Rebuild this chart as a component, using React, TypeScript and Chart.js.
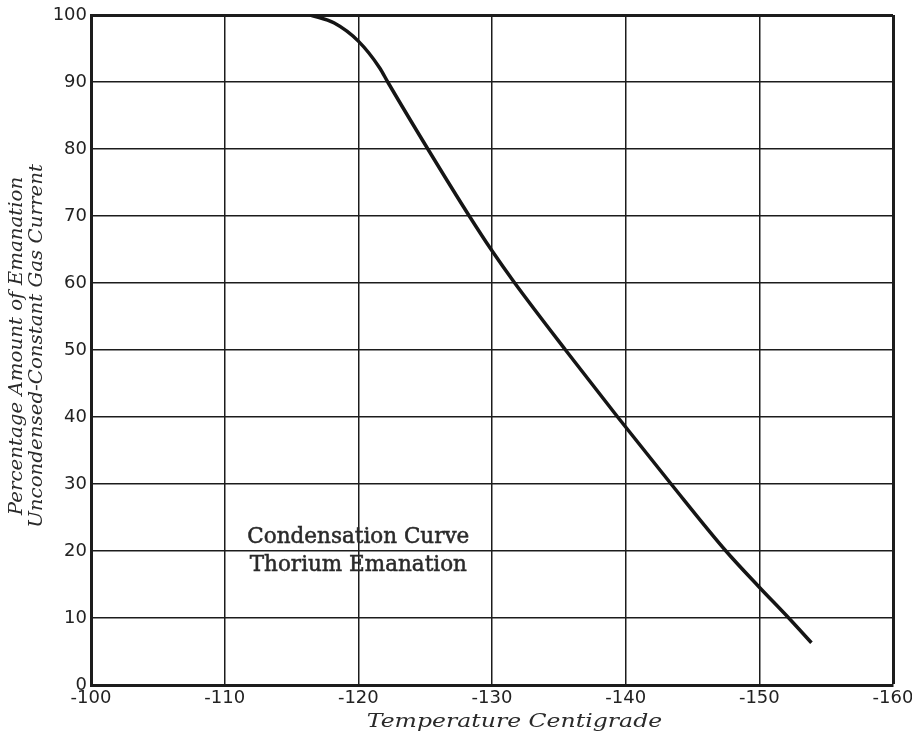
import { useEffect, useRef } from "react";
import { Chart, registerables } from "chart.js";

Chart.register(...registerables);

// Temperature (°C) and percentage of emanation remaining uncondensed
const temperatures = [-116.4, -118.2, -120, -121.6, -122.2, -125.2, -128.3, -130, -131.7, -135.5, -139.4, -143.4, -147.5, -150, -152.2, -153.9];
const percentages = [100, 98.8, 96.1, 92.1, 90, 80, 70, 64.8, 60, 50, 40, 30, 20, 14.6, 10, 6.3];

const yTitleLines = ["Percentage Amount of Emanation", "Uncondensed-Constant Gas Current"];
const xTitle = "Temperature Centigrade";
const annotationLines = ["Condensation Curve", "Thorium Emanation"];
const annotationX = -120;
const annotationY = 20;

const INK = "#1c1c1c";

const textPlugin = {
  id: "textPlugin",
  afterDraw(chart: any) {
    const { ctx, chartArea, scales } = chart;
    ctx.save();
    ctx.fillStyle = "#2a2a2a";
    ctx.strokeStyle = "#2a2a2a";
    ctx.textAlign = "center";
    ctx.textBaseline = "middle";
    // annotation
    ctx.font = '21.5px "DejaVu Serif"';
    ctx.lineWidth = 0.5;
    const ax = scales.x.getPixelForValue(annotationX);
    const ay = scales.y.getPixelForValue(annotationY);
    annotationLines.forEach((line, i) => {
      const yy = ay + (i === 0 ? -14 : 14);
      ctx.fillText(line, ax, yy);
      ctx.strokeText(line, ax, yy);
    });
    // x title (wide italic)
    ctx.font = 'italic 19px "DejaVu Serif"';
    ctx.save();
    ctx.translate(chartArea.left + chartArea.width * 0.528, chartArea.bottom + 37);
    ctx.scale(1.24, 1);
    ctx.fillText(xTitle, 0, 0);
    ctx.restore();
    // y title (rotated, two lines)
    ctx.font = 'italic 18px "DejaVu Serif"';
    const cy = (chartArea.top + chartArea.bottom) / 2 - 4;
    yTitleLines.forEach((line, i) => {
      ctx.save();
      ctx.translate(chartArea.left - 74 + i * 20, cy);
      ctx.rotate(-Math.PI / 2);
      ctx.scale(1.1, 1);
      ctx.fillText(line, 0, 0);
      ctx.restore();
    });
    ctx.restore();
  },
};

export default function App() {
  const ref = useRef<HTMLCanvasElement | null>(null);
  useEffect(() => {
    if (!ref.current) return;
    const chart = new Chart(ref.current, {
      type: "line",
      data: {
        datasets: [
          {
            data: temperatures.map((t, i) => ({ x: t, y: percentages[i] })),
            borderColor: "#151515",
            borderWidth: 3.5,
            pointRadius: 0,
            cubicInterpolationMode: "monotone",
            fill: false,
          },
        ],
      },
      options: {
        animation: false,
        responsive: false,
        maintainAspectRatio: false,
        layout: { padding: { top: 15, right: 19, left: 0, bottom: 0 } },
        plugins: { legend: { display: false }, tooltip: { enabled: false } },
        scales: {
          x: {
            type: "linear",
            reverse: true,
            min: -160,
            max: -100,
            ticks: {
              stepSize: 10,
              color: "#222",
              font: { family: "DejaVu Sans", size: 18 },
              padding: 3,
              maxRotation: 0,
            },
            grid: {
              color: INK,
              lineWidth: (c: any) => (c.tick && c.tick.value === -160 ? 3 : 1.5),
              drawTicks: false,
            },
            border: { color: INK, width: 3 },
            afterFit: (s: any) => {
              s.height = 49;
              s.paddingLeft = 0;
              s.paddingRight = 0;
            },
          },
          y: {
            min: 0,
            max: 100,
            ticks: {
              stepSize: 10,
              color: "#222",
              font: { family: "DejaVu Sans", size: 18 },
              padding: 4,
            },
            grid: {
              color: INK,
              lineWidth: (c: any) => (c.tick && c.tick.value === 100 ? 3 : 1.5),
              drawTicks: false,
            },
            border: { color: INK, width: 3 },
            afterFit: (s: any) => {
              s.width = 91;
              s.paddingTop = 0;
              s.paddingBottom = 0;
            },
          },
        },
      },
      plugins: [textPlugin],
    });
    return () => chart.destroy();
  }, []);
  return (
    <div style={{ position: "fixed", left: 0, top: 0, width: 912, height: 734, background: "#fff" }}>
      <canvas ref={ref} width={912} height={734} style={{ display: "block" }} />
    </div>
  );
}
